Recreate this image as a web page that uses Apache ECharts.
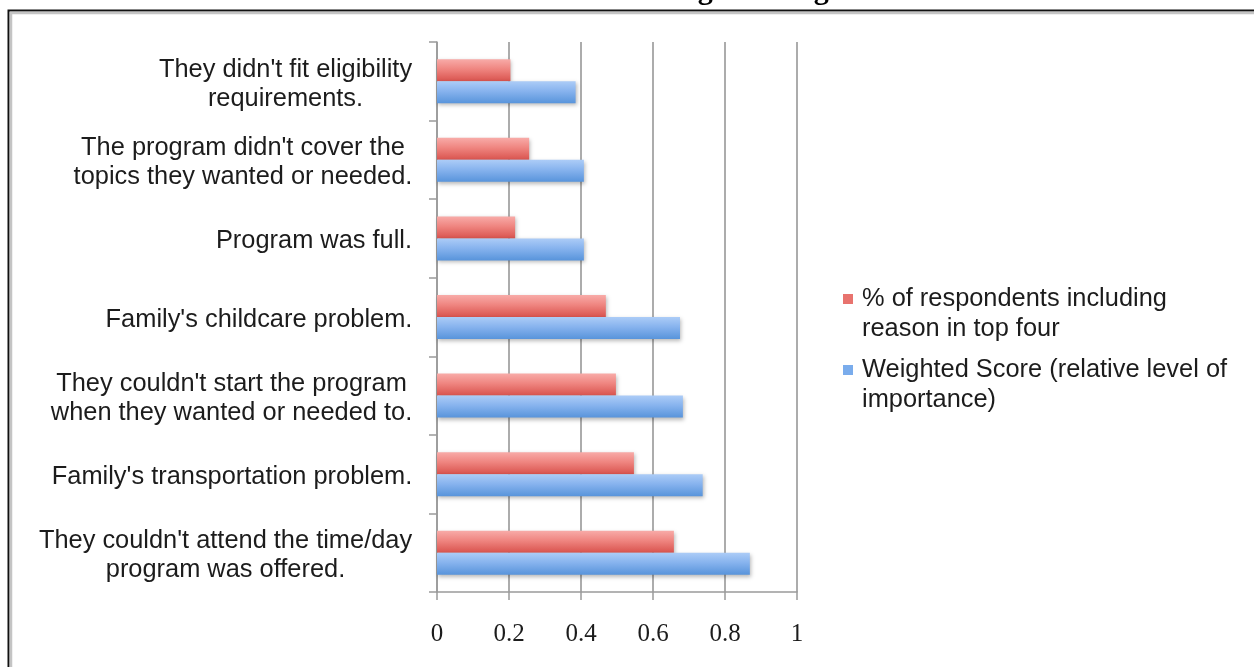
<!DOCTYPE html>
<html>
<head>
<meta charset="utf-8">
<script src="https://cdn.jsdelivr.net/npm/echarts@6/dist/echarts.min.js"></script>
<style>
  html, body { margin: 0; padding: 0; background: #ffffff; }
  #chart { width: 1254px; height: 667px; }
</style>
</head>
<body>
<div id="chart"></div>
<script>
// Reasons, listed top to bottom
const categories = [
  "They didn't fit eligibility\nrequirements.",
  "The program didn't cover the\ntopics they wanted or needed.",
  "Program was full.",
  "Family's childcare problem.",
  "They couldn't start the program\nwhen they wanted or needed to.",
  "Family's transportation problem.",
  "They couldn't attend the time/day\nprogram was offered."
];

// Share of respondents ranking the reason in their top four
const pctTopFour = [0.204, 0.256, 0.217, 0.469, 0.497, 0.547, 0.658];

// Weighted score (relative level of importance)
const weightedScore = [0.385, 0.408, 0.408, 0.675, 0.683, 0.738, 0.869];

const seriesNames = [
  "% of respondents including reason in top four",
  "Weighted Score (relative level of importance)"
];
const legendLines = [
  ["% of respondents including", "reason in top four"],
  ["Weighted Score (relative level of", "importance)"]
];

const titleText = "Reasons for Not Attending the Program";

const SANS = '"Liberation Sans", Arial, sans-serif';
const SERIF = '"Liberation Serif", "Times New Roman", serif';
const LABEL_SIZE = 25.4;

// Width of each label block, so its lines can be centred under one another
const measureCtx = document.createElement('canvas').getContext('2d');
measureCtx.font = LABEL_SIZE + 'px ' + SANS;
const labelRich = {};
categories.forEach((c, i) => {
  const w = Math.max(...c.split('\n').map(l => measureCtx.measureText(l).width));
  labelRich['c' + i] = { width: Math.ceil(w) + 1, align: 'center', fontSize: LABEL_SIZE, fontFamily: SANS, color: '#1c1c1c', lineHeight: 29 };
});

function vGrad(top, mid, bottom) {
  return new echarts.graphic.LinearGradient(0, 0, 0, 1, [
    { offset: 0, color: top },
    { offset: 0.45, color: mid },
    { offset: 1, color: bottom }
  ]);
}

const redFill = vGrad('#f8aba8', '#ef8580', '#d9534e');
const blueFill = vGrad('#acccf7', '#87b3ee', '#5894db');
const markerColors = ['#e8736e', '#7aacec'];

const chart = echarts.init(document.getElementById('chart'), null, { renderer: 'canvas' });

chart.setOption({
  backgroundColor: '#ffffff',
  animation: false,
  title: {
    text: titleText,
    left: 'center',
    top: -29,
    textStyle: { fontFamily: SERIF, fontWeight: 'bold', fontSize: 30, color: '#000000' }
  },
  graphic: [
    {
      type: 'rect',
      shape: { x: 8.5, y: 10.5, width: 1400, height: 800 },
      style: { fill: null, stroke: '#111111', lineWidth: 2 },
      silent: true, z: 100
    },
    {
      type: 'rect',
      shape: { x: 11, y: 13, width: 1400, height: 800 },
      style: { fill: null, stroke: '#c4c4c4', lineWidth: 2.5 },
      silent: true, z: 100
    }
  ],
  grid: { left: 437, top: 42, width: 360, height: 550, containLabel: false },
  legend: {
    orient: 'vertical',
    left: 833,
    top: 279,
    itemGap: 11,
    icon: 'none',
    itemWidth: 0,
    itemHeight: 0,
    selectedMode: false,
    data: seriesNames,
    formatter: function (name) {
      const i = seriesNames.indexOf(name);
      const lines = legendLines[i];
      return '{m' + i + '|}{g|}{t|' + lines[0] + '}\n{s|}{t|' + lines[1] + '}';
    },
    textStyle: {
      fontFamily: SANS,
      fontSize: LABEL_SIZE,
      color: '#1c1c1c',
      lineHeight: 30,
      rich: {
        m0: { width: 10, height: 10, backgroundColor: markerColors[0], verticalAlign: 'middle' },
        m1: { width: 10, height: 10, backgroundColor: markerColors[1], verticalAlign: 'middle' },
        g: { width: 9 },
        s: { width: 19 },
        t: { fontFamily: SANS, fontSize: LABEL_SIZE, color: '#1c1c1c', lineHeight: 30 }
      }
    }
  },
  xAxis: {
    type: 'value',
    min: 0,
    max: 1,
    interval: 0.2,
    axisLine: { show: true, lineStyle: { color: '#9a9a9a', width: 1.5 } },
    axisTick: { show: true, length: 8, lineStyle: { color: '#9a9a9a', width: 1.5 } },
    splitLine: { show: true, lineStyle: { color: '#a3a3a3', width: 1.8 } },
    axisLabel: {
      margin: 30,
      fontFamily: SERIF,
      fontSize: 25,
      color: '#1c1c1c'
    }
  },
  yAxis: {
    type: 'category',
    inverse: true,
    data: categories,
    axisLine: { show: true, lineStyle: { color: '#9a9a9a', width: 1.5 } },
    axisTick: { show: true, length: 8, alignWithLabel: false, lineStyle: { color: '#9a9a9a', width: 1.5 } },
    splitLine: { show: false },
    axisLabel: {
      margin: 24,
      interval: 0,
      padding: [6, 0, 0, 0],
      formatter: function (value, index) {
        return value.split('\n').map(l => '{c' + index + '|' + l + '}').join('\n');
      },
      rich: labelRich
    }
  },
  series: [
    {
      name: seriesNames[0],
      type: 'bar',
      data: pctTopFour,
      barWidth: 22,
      barGap: '0%',
      itemStyle: {
        color: redFill,
        shadowColor: 'rgba(0,0,0,0.28)',
        shadowBlur: 4,
        shadowOffsetX: 1,
        shadowOffsetY: 2
      }
    },
    {
      name: seriesNames[1],
      type: 'bar',
      data: weightedScore,
      barWidth: 22,
      barGap: '0%',
      itemStyle: {
        color: blueFill,
        shadowColor: 'rgba(0,0,0,0.28)',
        shadowBlur: 4,
        shadowOffsetX: 1,
        shadowOffsetY: 2
      }
    }
  ]
});
</script>
</body>
</html>
